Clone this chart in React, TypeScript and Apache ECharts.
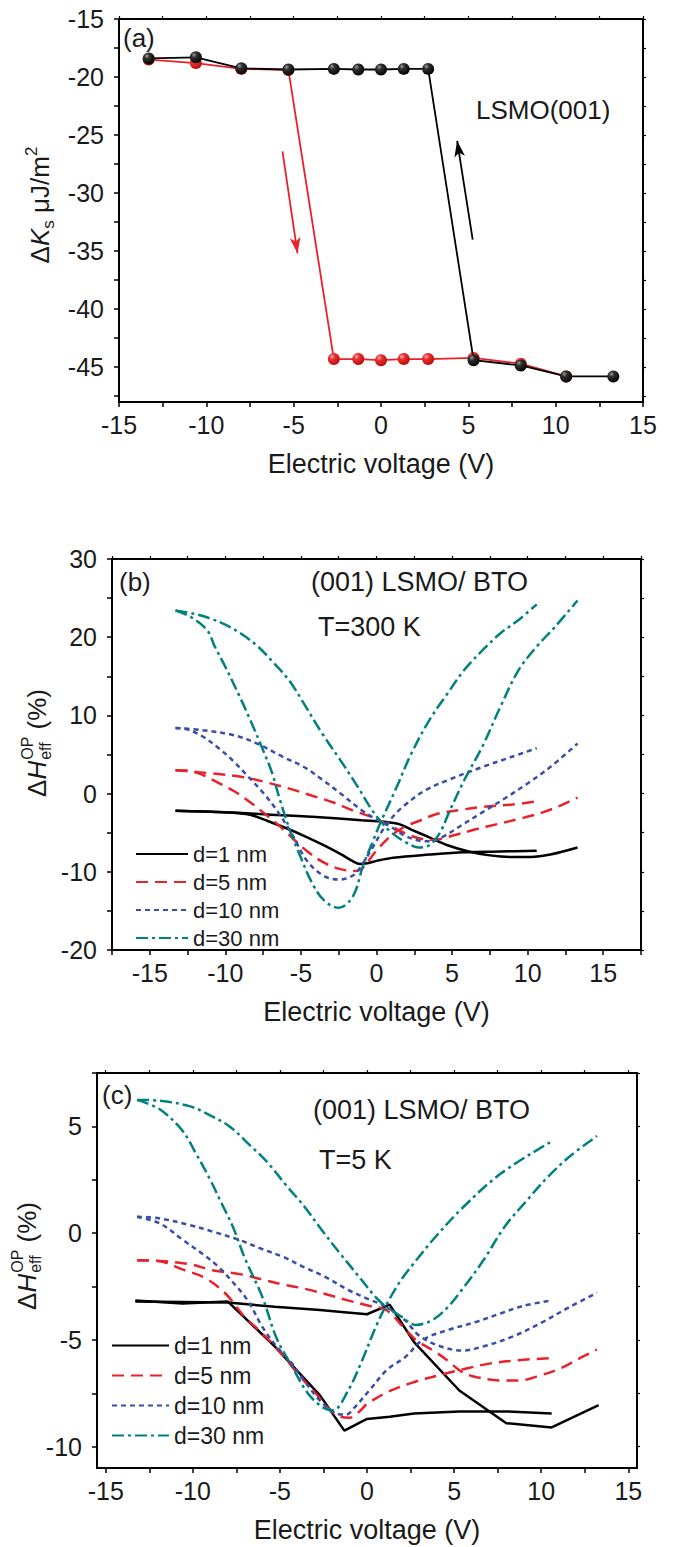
import React, { useEffect, useRef } from 'react';
import * as echarts from 'echarts';

const FONT = "'Liberation Sans', Arial, Helvetica, sans-serif";
const INK = '#1a1a1a';
const RED = '#e8222b';
const BLUE = '#3a4ea6';
const TEAL = '#00817f';

// ---------- Panel (a) ----------
const voltA = [-13.3, -10.6, -8, -5.3, -2.7, -1.3, 0, 1.3, 2.7, 5.3, 8, 10.6, 13.3];
const ksRed = [-18.5, -18.8, -19.3, -19.4, -44.3, -44.3, -44.4, -44.3, -44.3, -44.2, -44.7, -45.8];
const ksBlack = [-18.4, -18.3, -19.25, -19.35, -19.3, -19.35, -19.35, -19.3, -19.3, -44.4, -44.85, -45.8, -45.8];
const arrowRed = [[-5.64, -26.4], [-4.78, -35.2]];
const arrowBlack = [[5.25, -34.0], [4.36, -25.5]];

// ---------- Panel (b) T=300 K ----------
const b1A = [[-13.3,-2.2],[-11.5,-2.3],[-9.5,-2.45],[-8.3,-2.75],[-7.2,-3.5],[-6,-4.4],[-4.8,-5.4],[-3.6,-6.5],[-2.4,-7.7],[-1.6,-8.6],[-1.1,-9.0],[-0.6,-8.9],[0,-8.6],[1.1,-8.2],[3.5,-7.8],[5.8,-7.5],[8.2,-7.4],[10.6,-7.3]];
const b1B = [[-13.3,-2.2],[-10,-2.4],[-7,-2.7],[-4,-3.0],[-1,-3.4],[0.5,-3.6],[1.5,-3.9],[2.3,-4.6],[3.5,-5.6],[4.7,-6.6],[6.1,-7.4],[7.5,-7.9],[8.9,-8.1],[10.2,-8.1],[11.5,-7.8],[13.3,-6.9]];
const b5A = [[-13.3,3.0],[-12.3,2.9],[-11.5,2.4],[-10.5,1.4],[-9.5,0.4],[-8.5,-0.9],[-7.5,-2.4],[-6.5,-4],[-5.5,-5.8],[-4.5,-7.5],[-3.5,-8.8],[-2.5,-9.6],[-1.5,-9.9],[-0.9,-9.5],[-0.1,-7.5],[0.9,-5.5],[1.8,-4.3],[2.8,-3.5],[4,-2.6],[5.5,-2.1],[7,-1.7],[9,-1.4],[10.6,-1.0]];
const b5B = [[-13.3,3.0],[-12.2,2.8],[-11,2.6],[-8.8,2.1],[-7.2,1.4],[-5.7,0.6],[-4.3,-0.25],[-2.9,-1.1],[-1.5,-2.2],[-0.3,-3.0],[0.9,-4.1],[1.8,-5.0],[2.8,-5.7],[3.8,-5.9],[5,-5.4],[6.5,-4.6],[8,-3.9],[9.5,-3.2],[11,-2.4],[12.2,-1.5],[13.3,-0.5]];
const b10A = [[-13.3,8.4],[-12.5,8.2],[-11.5,7.3],[-10.5,5.9],[-9.5,4.2],[-8.5,2.2],[-7.5,0.1],[-6.5,-2.4],[-5.5,-5.5],[-4.6,-8.6],[-3.5,-10.5],[-2.5,-11],[-1.5,-10.4],[-0.9,-8.9],[-0.2,-6.7],[0.5,-4.4],[1.2,-2.7],[1.8,-1.6],[3.2,0.4],[4.7,1.7],[7,3.4],[8.8,4.6],[10.6,5.8]];
const b10B = [[-13.3,8.4],[-11.5,8.1],[-9.5,7.5],[-7.9,6.4],[-6.2,4.7],[-4.8,3.4],[-3.6,1.8],[-2.4,0.05],[-1,-2.1],[-0.1,-3.2],[0.9,-4.2],[1.8,-5.3],[2.8,-6.0],[3.6,-6.1],[4.5,-5.4],[5.5,-4.2],[7,-2.4],[8.5,-0.6],[10,1.3],[11.5,3.4],[13.3,6.4]];
const b30A = [[-13.3,23.4],[-12.3,22.6],[-11.2,20.9],[-10.7,18.8],[-10,16.2],[-9.05,12.4],[-8.35,9.4],[-7.6,6.0],[-6.9,2.6],[-6.45,-0.4],[-5.75,-4.6],[-5.0,-8.2],[-4.3,-11.3],[-3.5,-13.6],[-2.5,-14.6],[-1.55,-13.1],[-0.9,-9.3],[-0.2,-5.9],[0.35,-3.35],[1.35,0.9],[2.3,5.1],[3.5,9.4],[4.7,12.8],[5.8,15.8],[7,18.3],[8.2,20.5],[9.4,22.2],[10.6,24.2]];
const b30B = [[-13.3,23.4],[-12.1,23.0],[-11.0,22.4],[-10.0,21.6],[-9.0,20.5],[-7.9,18.9],[-6.7,16.5],[-5.75,14.4],[-4.8,11.5],[-3.6,7.7],[-2.4,4.3],[-1.25,0.9],[-0.3,-2.1],[0.3,-3.6],[1.0,-5.0],[2.0,-6.3],[2.8,-6.9],[3.5,-6.6],[4.2,-5.0],[4.8,-2.4],[5.8,1.7],[7,6.0],[8.2,11.1],[9.4,15.8],[10.6,18.8],[11.8,21.3],[13.3,24.7]];

// ---------- Panel (c) T=5 K ----------
const c1A = [[-13.3,-3.15],[-10.6,-3.3],[-8,-3.2],[-5.3,-5.3],[-2.7,-7.6],[-1.3,-9.25],[0,-8.7],[1.3,-8.6],[2.7,-8.45],[5.3,-8.35],[8,-8.35],[10.6,-8.45]];
const c1B = [[-13.3,-3.2],[-10.6,-3.22],[-8,-3.25],[-5.3,-3.45],[-2.7,-3.6],[-1.3,-3.7],[0,-3.8],[1.3,-3.35],[2.7,-5.1],[5.3,-7.37],[8,-8.9],[10.6,-9.1],[13.3,-8.05]];
const c5A = [[-13.2,-1.27],[-12,-1.3],[-10.6,-1.7],[-9.3,-2.1],[-8.1,-2.85],[-7.05,-3.9],[-6.2,-4.55],[-5.4,-5.2],[-4.6,-5.95],[-3.8,-6.75],[-2.95,-7.5],[-2.1,-8.3],[-1.5,-8.6],[-1.0,-8.65],[-0.5,-8.4],[0,-8.0],[0.7,-7.65],[1.15,-7.45],[2.6,-7.0],[4.4,-6.6],[5.65,-6.35],[7.1,-6.1],[8.7,-5.95],[10.6,-5.85]];
const c5B = [[-13.2,-1.27],[-11.9,-1.3],[-10.2,-1.45],[-8.8,-1.75],[-7.3,-1.92],[-6.1,-2.15],[-4.85,-2.4],[-3.6,-2.6],[-2.4,-2.85],[-1.1,-3.15],[0.1,-3.4],[1.1,-3.6],[2.2,-4.5],[2.8,-5.0],[3.8,-5.5],[4.6,-5.95],[5.45,-6.5],[6.3,-6.75],[7.7,-6.9],[8.7,-6.9],[10,-6.65],[11.2,-6.3],[12,-5.95],[13.2,-5.45]];
const c10A = [[-13.2,0.77],[-11.9,0.46],[-10.6,-0.3],[-9.4,-1.0],[-8.5,-1.6],[-7.7,-2.3],[-6.85,-3.15],[-6.0,-4.4],[-5.2,-5.3],[-4.4,-6.0],[-3.6,-6.9],[-2.75,-7.8],[-1.75,-8.45],[-1.2,-8.5],[-0.7,-8.15],[0.1,-7.4],[1.15,-6.4],[2.2,-5.8],[3.2,-5.0],[4.6,-4.55],[6.3,-4.15],[7.7,-3.75],[9,-3.4],[10.6,-3.15]];
const c10B = [[-13.2,0.77],[-11.9,0.69],[-10.2,0.38],[-8.8,0.06],[-7.3,-0.33],[-6.1,-0.72],[-4.85,-1.1],[-3.6,-1.6],[-2.4,-2.05],[-1.1,-2.65],[0.1,-3.1],[1.1,-3.45],[2.2,-4.1],[3.0,-4.8],[4.2,-5.3],[5.45,-5.5],[6.7,-5.3],[8.35,-4.85],[10,-4.2],[11.65,-3.45],[13.2,-2.8]];
const c30A = [[-13.2,6.24],[-11.9,5.8],[-10.6,4.8],[-9.8,3.7],[-9.0,2.5],[-8.35,1.4],[-7.7,0.3],[-7.0,-1.2],[-6.0,-3.0],[-5.2,-4.9],[-4.2,-6.4],[-3.4,-7.5],[-2.55,-8.15],[-1.95,-8.3],[-1.1,-7.4],[-0.3,-6.0],[0.5,-4.4],[1.15,-3.3],[1.95,-2.2],[2.8,-1.3],[3.8,-0.3],[5.5,1.2],[7.7,2.8],[10.6,4.3]];
const c30B = [[-13.2,6.24],[-11.9,6.2],[-10.2,5.95],[-9.2,5.6],[-7.9,5.0],[-6.7,4.1],[-5.7,3.3],[-4.6,2.2],[-3.6,1.25],[-2.6,0.15],[-1.55,-0.95],[-0.5,-2.0],[0.5,-3.0],[1.1,-3.45],[1.95,-3.9],[2.8,-4.3],[3.8,-4.05],[4.65,-3.45],[5.45,-2.65],[6.7,-1.25],[7.9,0.3],[9.2,1.55],[10.4,2.65],[11.65,3.6],[13.2,4.55]];

// ---------- Axes ticks ----------
const xLabelsAC = [-15, -10, -5, 0, 5, 10, 15];
const xTicksAC = [-15, -12.5, -10, -7.5, -5, -2.5, 0, 2.5, 5, 7.5, 10, 12.5, 15];
const xTicksB = [-17.5, ...xTicksAC, 17.5];
const yLabelsA = [-45, -40, -35, -30, -25, -20, -15];
const yTicksA = [-47.5, -45, -42.5, -40, -37.5, -35, -32.5, -30, -27.5, -25, -22.5, -20, -17.5, -15];
const yLabelsB = [-20, -10, 0, 10, 20, 30];
const yTicksB = [-20, -15, -10, -5, 0, 5, 10, 15, 20, 25, 30];
const yLabelsC = [-10, -5, 0, 5];
const yTicksC = [-10, -7.5, -5, -2.5, 0, 2.5, 5, 7.5];

const legendNames = ['d=1 nm', 'd=5 nm', 'd=10 nm', 'd=30 nm'];

function measure(text: string, font: string) {
  const c = document.createElement('canvas').getContext('2d')!;
  c.font = font;
  return c.measureText(text).width;
}

function makeAxes(gi: number, xr: number[], xl: number[], xt: number[], yr: number[], yl: number[], yt: number[]) {
  const line = { show: true, onZero: false, lineStyle: { color: '#000', width: 2 } };
  const lab = { fontSize: 25, fontFamily: FONT, color: INK };
  const xs = [
    {
      type: 'value', gridIndex: gi, min: xr[0], max: xr[1], position: 'bottom',
      axisLine: line,
      axisTick: { show: true, inside: false, length: 5, customValues: xt, lineStyle: { color: '#000', width: 1.5 } },
      axisLabel: { show: true, customValues: xl, margin: 10, ...lab },
      splitLine: { show: false },
      name: 'Electric voltage (V)', nameLocation: 'middle', nameGap: 48,
      nameTextStyle: { fontSize: 27, fontFamily: FONT, color: INK },
    },
    {
      type: 'value', gridIndex: gi, min: xr[0], max: xr[1], position: 'top',
      axisLine: line,
      axisTick: { show: true, inside: false, length: 3, customValues: xt, lineStyle: { color: '#000', width: 1.2 } },
      axisLabel: { show: false }, splitLine: { show: false },
    },
  ];
  const ys = [
    {
      type: 'value', gridIndex: gi, min: yr[0], max: yr[1], position: 'left',
      axisLine: line,
      axisTick: { show: true, inside: false, length: 5, customValues: yt, lineStyle: { color: '#000', width: 1.5 } },
      axisLabel: { show: true, customValues: yl, margin: 15, ...lab },
      splitLine: { show: false },
    },
    {
      type: 'value', gridIndex: gi, min: yr[0], max: yr[1], position: 'right',
      axisLine: line,
      axisTick: { show: true, inside: false, length: 3, customValues: yt, lineStyle: { color: '#000', width: 1.2 } },
      axisLabel: { show: false }, splitLine: { show: false },
    },
  ];
  return { xs, ys };
}

function curve(name: string, data: number[][], xi: number, color: string, dash: any, smooth: boolean) {
  return {
    type: 'line', name, data, xAxisIndex: xi, yAxisIndex: xi,
    symbol: 'none', smooth: smooth ? 0.35 : false,
    lineStyle: { color, width: 2.5, type: dash },
    itemStyle: { color },
    z: 2,
  };
}

function yTitleRich(cx: number, cy: number) {
  const big = `26px ${FONT}`;
  const ital = `italic 26px ${FONT}`;
  const small = `16px ${FONT}`;
  const wD = measure('Δ', big);
  const wH = measure('H', ital);
  const wEff = measure('eff', small);
  const wOP = measure('OP', small);
  const wRest = measure(' (%)', big);
  const total = wD + wH + 1 + Math.max(wEff, wOP) + wRest;
  const x0 = -total / 2;
  const base = { fill: INK, verticalAlign: 'middle', align: 'left' };
  return {
    type: 'group', x: cx, y: cy, rotation: Math.PI / 2,
    children: [
      { type: 'text', x: x0, y: 0, style: { ...base, text: 'Δ', font: big } },
      { type: 'text', x: x0 + wD, y: 0, style: { ...base, text: 'H', font: ital } },
      { type: 'text', x: x0 + wD + wH + 1, y: 8, style: { ...base, text: 'eff', font: small } },
      { type: 'text', x: x0 + wD + wH + 1, y: -10, style: { ...base, text: 'OP', font: small } },
      { type: 'text', x: x0 + wD + wH + 1 + Math.max(wEff, wOP), y: 0, style: { ...base, text: ' (%)', font: big } },
    ],
  };
}

function txt(text: string, x: number, y: number, size: number) {
  return { type: 'text', x, y, style: { text, font: `${size}px ${FONT}`, fill: INK, align: 'left', verticalAlign: 'middle' } };
}

export default function App() {
  const ref = useRef<HTMLDivElement>(null);
  useEffect(() => {
    if (!ref.current) return;
    const chart = echarts.init(ref.current, null, { renderer: 'svg' });

    const a = makeAxes(0, [-15, 15], xLabelsAC, xTicksAC, [-48, -15], yLabelsA, yTicksA);
    const b = makeAxes(1, [-17.5, 17.5], xLabelsAC, xTicksB, [-20, 30], yLabelsB, yTicksB);
    const c = makeAxes(2, [-15.5, 15.5], xLabelsAC, xTicksAC, [-11, 7.5], yLabelsC, yTicksC);

    const blackBall = new echarts.graphic.RadialGradient(0.35, 0.3, 0.75, [
      { offset: 0, color: '#a0a0a0' }, { offset: 0.3, color: '#303030' }, { offset: 1, color: '#000000' },
    ]);
    const redBall = new echarts.graphic.RadialGradient(0.35, 0.3, 0.75, [
      { offset: 0, color: '#ffc0c0' }, { offset: 0.3, color: '#f03030' }, { offset: 1, color: '#b00c0c' },
    ]);

    const dash5 = [12, 7];
    const dash10 = [5, 4];
    const dash30 = [12, 4, 3, 4];

    const legendCommon = {
      orient: 'vertical', itemHeight: 14, selectedMode: false,
      itemStyle: { opacity: 0, borderWidth: 0 },
      lineStyle: { opacity: 1 },
    };

    const option: any = {
      animation: false,
      backgroundColor: '#ffffff',
      grid: [
        { left: 119, top: 19, width: 524, height: 383 },
        { left: 112, top: 559, width: 529, height: 391 },
        { left: 97, top: 1073, width: 540, height: 395 },
      ],
      xAxis: [...a.xs, ...b.xs, ...c.xs],
      yAxis: [...a.ys, ...b.ys, ...c.ys],
      legend: [
        {
          ...legendCommon, left: 130, top: 838, itemWidth: 52, itemGap: 6,
          data: legendNames,
          textStyle: { fontSize: 22, fontFamily: FONT, color: INK },
        },
        {
          ...legendCommon, left: 106, top: 1329, itemWidth: 57, itemGap: 7,
          data: legendNames,
          textStyle: { fontSize: 23, fontFamily: FONT, color: INK },
        },
      ],
      series: [
        {
          type: 'line', name: 'sweep down', xAxisIndex: 0, yAxisIndex: 0,
          data: ksRed.map((v, i) => [voltA[i], v]),
          symbol: 'circle', symbolSize: 12,
          lineStyle: { color: RED, width: 1.8 }, itemStyle: { color: redBall },
          z: 2,
          markLine: {
            silent: true, symbol: ['none', 'arrow'], symbolSize: [8, 16],
            label: { show: false },
            lineStyle: { color: RED, width: 1.8, type: 'solid' },
            data: [[{ coord: arrowRed[0] }, { coord: arrowRed[1] }]],
          },
        },
        {
          type: 'line', name: 'sweep up', xAxisIndex: 0, yAxisIndex: 0,
          data: ksBlack.map((v, i) => [voltA[i], v]),
          symbol: 'circle', symbolSize: 12,
          lineStyle: { color: '#000', width: 1.8 }, itemStyle: { color: blackBall },
          z: 3,
          markLine: {
            silent: true, symbol: ['none', 'arrow'], symbolSize: [8, 16],
            label: { show: false },
            lineStyle: { color: '#000', width: 1.8, type: 'solid' },
            data: [[{ coord: arrowBlack[0] }, { coord: arrowBlack[1] }]],
          },
        },
        curve('d=1 nm', b1A, 2, '#000', 'solid', true),
        curve('d=1 nm', b1B, 2, '#000', 'solid', true),
        curve('d=5 nm', b5A, 2, RED, dash5, true),
        curve('d=5 nm', b5B, 2, RED, dash5, true),
        curve('d=10 nm', b10A, 2, BLUE, dash10, true),
        curve('d=10 nm', b10B, 2, BLUE, dash10, true),
        curve('d=30 nm', b30A, 2, TEAL, dash30, true),
        curve('d=30 nm', b30B, 2, TEAL, dash30, true),
        curve('d=1 nm', c1A, 4, '#000', 'solid', false),
        curve('d=1 nm', c1B, 4, '#000', 'solid', false),
        curve('d=5 nm', c5A, 4, RED, dash5, true),
        curve('d=5 nm', c5B, 4, RED, dash5, true),
        curve('d=10 nm', c10A, 4, BLUE, dash10, true),
        curve('d=10 nm', c10B, 4, BLUE, dash10, true),
        curve('d=30 nm', c30A, 4, TEAL, dash30, true),
        curve('d=30 nm', c30B, 4, TEAL, dash30, true),
      ],
      graphic: [
        txt('(a)', 123, 38, 26),
        txt('LSMO(001)', 476, 110, 26),
        txt('(b)', 119, 582, 26),
        txt('(001) LSMO/ BTO', 311, 582, 27),
        txt('T=300 K', 318, 627, 27),
        txt('(c)', 102, 1095, 26),
        txt('(001) LSMO/ BTO', 313, 1110, 27),
        txt('T=5 K', 319, 1160, 27),
        {
          type: 'text', x: 40, y: 205, rotation: Math.PI / 2,
          style: {
            text: '{d|Δ}{k|K}{s|s}{d| μJ/m}{p|2}',
            align: 'center', verticalAlign: 'middle', fill: INK,
            rich: {
              d: { fontSize: 26, fontFamily: FONT, lineHeight: 34, fill: INK },
              k: { fontSize: 26, fontFamily: FONT, fontStyle: 'italic', lineHeight: 34, fill: INK },
              s: { fontSize: 17, fontFamily: FONT, lineHeight: 17, verticalAlign: 'bottom', fill: INK },
              p: { fontSize: 17, fontFamily: FONT, lineHeight: 17, verticalAlign: 'top', fill: INK },
            },
          },
        },
        yTitleRich(37, 743),
        yTitleRich(27, 1256),
      ],
    };
    chart.setOption(option);
    return () => chart.dispose();
  }, []);
  return <div ref={ref} style={{ position: 'absolute', left: 0, top: 0, width: 679, height: 1547 }} />;
}
